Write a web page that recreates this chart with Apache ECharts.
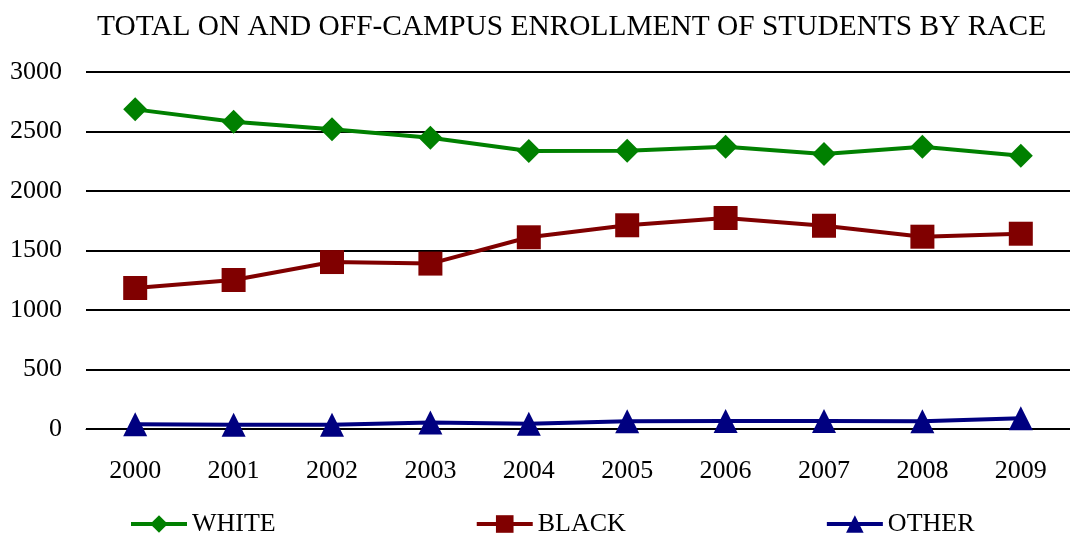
<!DOCTYPE html>
<html lang="en">
<head>
    <meta charset="UTF-8">
    <title>Enrollment by race</title>
    <script src="https://cdn.jsdelivr.net/npm/echarts@6/dist/echarts.min.js"></script>
    <style>
        html, body { margin: 0; padding: 0; background: #fff; }
        #main { width: 1070px; height: 537px; }
    </style>
</head>
<body>
    <div id="main"></div>
    <script>
        // data
        var years = ['2000', '2001', '2002', '2003', '2004', '2005', '2006', '2007', '2008', '2009'];
        var white = [2686, 2582, 2518, 2448, 2336, 2339, 2372, 2311, 2372, 2297];
        var black = [1185, 1252, 1403, 1390, 1611, 1712, 1773, 1708, 1616, 1641];
        var other = [40, 35, 35, 55, 45, 65, 68, 68, 65, 90];

        var font = '"Liberation Serif", "Times New Roman", serif';
        var myChart = echarts.init(document.getElementById('main'));

        function line(name, data, color, symbol, size) {
            return {
                name: name,
                type: 'line',
                data: data,
                symbol: symbol,
                symbolSize: size,
                lineStyle: { color: color, width: 4 },
                itemStyle: { color: color },
                animation: false
            };
        }

        var option = {
            textStyle: { fontFamily: font },
            title: {
                text: 'TOTAL ON AND OFF-CAMPUS ENROLLMENT OF STUDENTS BY RACE',
                left: 92,
                top: 8,
                textStyle: { fontFamily: font, fontSize: 29.4, fontWeight: 'normal', color: '#000' }
            },
            legend: {
                top: 506,
                left: 124,
                itemGap: 199,
                itemWidth: 56,
                itemHeight: 22,
                lineStyle: { width: 4 },
                textStyle: { fontFamily: font, fontSize: 26, color: '#000' },
                data: ['WHITE', 'BLACK', 'OTHER']
            },
            grid: { left: 86, right: 0, top: 72, bottom: 108 },
            xAxis: {
                type: 'category',
                data: years,
                axisLine: { lineStyle: { color: '#000', width: 1 } },
                axisTick: { show: false },
                axisLabel: { fontFamily: font, fontSize: 26, color: '#000', margin: 29 }
            },
            yAxis: {
                type: 'value',
                min: 0,
                max: 3000,
                interval: 500,
                axisLine: { show: false },
                axisTick: { show: false },
                axisLabel: {
                    fontFamily: font, fontSize: 26, color: '#000', margin: 24,
                    formatter: function (v) { return String(v); }
                },
                splitLine: { lineStyle: { color: '#000', width: 2 } }
            },
            series: [
                line('WHITE', white, '#008000', 'diamond', 24),
                line('BLACK', black, '#800000', 'rect', 24),
                line('OTHER', other, '#000080', 'triangle', 24)
            ]
        };

        myChart.setOption(option);
    </script>
</body>
</html>
